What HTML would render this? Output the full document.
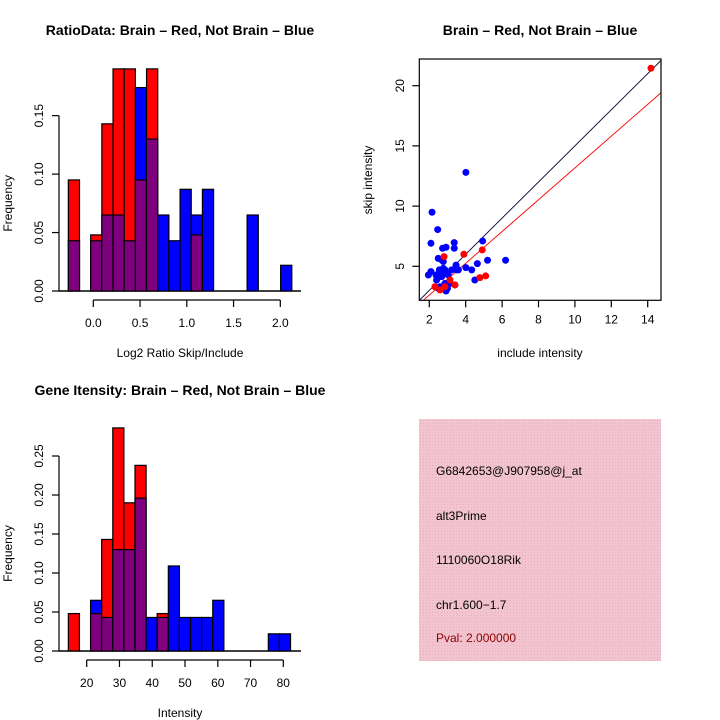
<!DOCTYPE html>
<html><head><meta charset="utf-8">
<style>
html,body{margin:0;padding:0;background:#fff;}
svg{display:block;font-family:"Liberation Sans",Arial,sans-serif;}
</style></head>
<body>
<svg id="chart" width="720" height="720" viewBox="0 0 720 720" xmlns="http://www.w3.org/2000/svg">
<rect width="720" height="720" fill="#fff"/>
<g id="p1"></g>
<g id="p2"></g>
<g id="p3"></g>
<g id="p4">
  <defs>
    <pattern id="hatch" width="3" height="3" patternUnits="userSpaceOnUse">
      <rect width="3" height="3" fill="#f2c4cf"/>
      <rect width="1" height="1" fill="#e8b0be"/>
    </pattern>
  </defs>
  <rect x="419" y="419" width="242" height="242" fill="url(#hatch)"/>
  <text x="436" y="475" font-size="12" fill="#000">G6842653@J907958@j_at</text>
  <text x="436" y="520" font-size="12" fill="#000">alt3Prime</text>
  <text x="436" y="564" font-size="12" fill="#000">1110060O18Rik</text>
  <text x="436" y="609" font-size="12" fill="#000">chr1.600−1.7</text>
  <text x="436" y="642" font-size="12" fill="#8b0000">Pval: 2.000000</text>
</g>
</svg>
<script>
// ---- Panel 1 data: log2 ratio histogram ----
const ratioBinStart = -0.267;
const ratioBinWidth = 0.1195;
const ratioRed  = [0.095,0,0.048,0.143,0.19,0.19,0.095,0.19,0,0,0,0.048,0,0,0,0,0,0,0,0];
const ratioBlue = [0.043,0,0.043,0.065,0.065,0.043,0.174,0.13,0.065,0.043,0.087,0.065,0.087,0,0,0,0.065,0,0,0.022];
const ratioXTicks = [0.0,0.5,1.0,1.5,2.0];
const ratioXTickLabels = ["0.0","0.5","1.0","1.5","2.0"];
const ratioYTicks = [0,0.05,0.10,0.15];
const ratioYTickLabels = ["0.00","0.05","0.10","0.15"];

// ---- Panel 2 data: scatter ----
const blueX = [2.15,2.46,2.09,4.01,2.73,2.92,3.37,3.37,4.93,6.19,5.2,4.64,4.33,4.01,3.47,4.5,2.92,1.95,2.09,2.49,2.68,2.77,2.55,2.77,2.4,2.59,2.86,3.14,3.04,3.23,3.5,2.37,2.95,2.68,3.41,3.0,2.49,3.6,2.86,2.59];
const blueY = [9.49,8.05,6.91,12.8,6.5,6.58,6.97,6.5,7.1,5.5,5.5,5.22,4.7,4.89,5.1,3.86,2.95,4.28,4.56,5.66,5.53,5.4,4.7,4.83,3.86,3.3,3.58,3.58,4.28,4.7,4.7,4.28,4.42,4.14,3.45,3.17,3.17,4.7,4.7,4.42];
const redX = [14.18,3.9,4.91,2.81,4.78,5.1,3.41,2.59,2.31,2.86,3.14];
const redY = [21.45,6.0,6.36,5.8,4.06,4.2,3.45,3.03,3.3,3.3,3.86];
const lineSlopes = [1.5,1.32];
const lineIntercepts = [0,-0.03];
const scatterXTicks = [2,4,6,8,10,12,14];
const scatterYTicks = [5,10,15,20];

// ---- Panel 3 data: intensity histogram ----
const intBinStart = 14.4;
const intBinWidth = 3.39;
const intRed  = [0.048,0,0.048,0.143,0.286,0.19,0.238,0,0.048,0,0,0,0,0,0,0,0,0,0,0];
const intBlue = [0,0,0.065,0.043,0.13,0.13,0.196,0.043,0.043,0.109,0.043,0.043,0.043,0.065,0,0,0,0,0.022,0.022];
const intXTicks = [20,30,40,50,60,70,80];
const intYTicks = [0,0.05,0.10,0.15,0.20,0.25];
const intYTickLabels = ["0.00","0.05","0.10","0.15","0.20","0.25"];

const NS = "http://www.w3.org/2000/svg";
function mk(parent, tag, attrs, text){
  const e = document.createElementNS(NS, tag);
  for (const k in attrs) e.setAttribute(k, attrs[k]);
  if (text !== undefined) e.textContent = text;
  parent.appendChild(e);
  return e;
}

function histogram(g, cfg){
  const {binStart,binWidth,red,blue,xScale,yScale,baseY,xTicks,xLabels,yTicks,yLabels,title,titleY,xTitle,xAxisY,xTitleY} = cfg;
  const n = red.length;
  // baseline
  const bl = mk(g,'line',{x1:59,x2:301,y1:baseY,y2:baseY,stroke:'#000','stroke-width':1.5});
  
  
  for (let i=0;i<n;i++){
    const r = red[i], b = blue[i];
    const x0 = xScale(binStart+i*binWidth), x1 = xScale(binStart+(i+1)*binWidth);
    const hi = Math.max(r,b), lo = Math.min(r,b);
    if (hi>0){
      const rc = mk(g,'rect',{x:x0,y:yScale(hi),width:x1-x0,height:baseY-yScale(hi),fill:(r>=b?'#ff0000':'#0000ff'),stroke:'#000','stroke-width':1.2});
      
      
    }
    if (lo>0){
      const pc = mk(g,'rect',{x:x0,y:yScale(lo),width:x1-x0,height:baseY-yScale(lo),fill:'#7f007f',stroke:'#000','stroke-width':1.2});
      
      
    }
  }
  // y axis
  const ya = mk(g,'line',{x1:59,x2:59,y1:yScale(yTicks[0]),y2:yScale(yTicks[yTicks.length-1]),stroke:'#000','stroke-width':1.2});
  
  
  yTicks.forEach((t,i)=>{
    const y = yScale(t);
    mk(g,'line',{x1:52,x2:59,y1:y,y2:y,stroke:'#000','stroke-width':1.2});
    const tl = mk(g,'text',{x:0,y:0,'font-size':12,'text-anchor':'middle',transform:`translate(43,${y}) rotate(-90)`},yLabels[i]);
    
    
  });
  // x axis
  const xa = mk(g,'line',{x1:xScale(xTicks[0]),x2:xScale(xTicks[xTicks.length-1]),y1:xAxisY,y2:xAxisY,stroke:'#000','stroke-width':1.2});
  
  
  xTicks.forEach((t,i)=>{
    const x = xScale(t);
    mk(g,'line',{x1:x,x2:x,y1:xAxisY,y2:xAxisY+7,stroke:'#000','stroke-width':1.2});
    const tl = mk(g,'text',{x:x,y:xAxisY+27,'font-size':12,'text-anchor':'middle'},xLabels[i]);
    
    
  });
  const tt = mk(g,'text',{x:180,y:titleY,'font-size':14,'font-weight':'bold','text-anchor':'middle'},title);
  
  
  const xt = mk(g,'text',{x:180,y:xTitleY,'font-size':12,'text-anchor':'middle'},xTitle);
  
  
  const yt = mk(g,'text',{x:0,y:0,'font-size':12,'text-anchor':'middle',transform:`translate(12,${(baseY+yScale(yTicks[yTicks.length-1]))/2}) rotate(-90)`},'Frequency');
  
  
}

// Panel 1
histogram(document.getElementById('p1'),{
  binStart:ratioBinStart,binWidth:ratioBinWidth,red:ratioRed,blue:ratioBlue,
  xScale:v=>93.3+v*93.5, yScale:v=>291-v*1169, baseY:291,
  xTicks:ratioXTicks,xLabels:ratioXTickLabels,yTicks:ratioYTicks,yLabels:ratioYTickLabels,
  title:'RatioData: Brain – Red, Not Brain – Blue',titleY:35,
  xTitle:'Log2 Ratio Skip/Include',xAxisY:300,xTitleY:357
});

// Panel 3
histogram(document.getElementById('p3'),{
  binStart:intBinStart,binWidth:intBinWidth,red:intRed,blue:intBlue,
  xScale:v=>86.7+(v-20)*3.277, yScale:v=>651-v*780, baseY:651,
  xTicks:intXTicks,xLabels:intXTicks.map(String),yTicks:intYTicks,yLabels:intYTickLabels,
  title:'Gene Itensity: Brain – Red, Not Brain – Blue',titleY:395,
  xTitle:'Intensity',xAxisY:660,xTitleY:717
});

// Panel 2
(function(){
  const g = document.getElementById('p2');
  const sx = v=>429.3+(v-2)*18.2;
  const sy = v=>266.3-(v-5)*12.04;
  const L=419.3,R=661,T=59,B=300.3;
  const cp = mk(g,'clipPath',{id:'sclip'});
  mk(cp,'rect',{x:L,y:T,width:R-L,height:B-T});
  const xmin = (L-429.3)/18.2+2, xmax=(R-429.3)/18.2+2;
  const colors=['#000030','#ff0000'];
  lineSlopes.forEach((s,i)=>{
    const ln = mk(g,'line',{x1:sx(xmin),y1:sy(lineIntercepts[i]+s*xmin),x2:sx(xmax),y2:sy(lineIntercepts[i]+s*xmax),stroke:colors[i],'stroke-width':0.9,'clip-path':'url(#sclip)'});
    
    
  });
  blueX.forEach((x,i)=>{
    const c = mk(g,'circle',{cx:sx(x),cy:sy(blueY[i]),r:3.5,fill:'#0000ff'});
    
    
  });
  redX.forEach((x,i)=>{
    const c = mk(g,'circle',{cx:sx(x),cy:sy(redY[i]),r:3.5,fill:'#ff0000'});
    
    
  });
  const box = mk(g,'rect',{x:L,y:T,width:R-L,height:B-T,fill:'none',stroke:'#000','stroke-width':1.2});
  
  
  scatterXTicks.forEach(t=>{
    const x=sx(t);
    mk(g,'line',{x1:x,x2:x,y1:B,y2:B+7,stroke:'#000','stroke-width':1.2});
    const tl = mk(g,'text',{x:x,y:B+23,'font-size':12,'text-anchor':'middle'},String(t));
    
    
  });
  scatterYTicks.forEach(t=>{
    const y=sy(t);
    mk(g,'line',{x1:L-7,x2:L,y1:y,y2:y,stroke:'#000','stroke-width':1.2});
    const tl = mk(g,'text',{x:0,y:0,'font-size':12,'text-anchor':'middle',transform:`translate(404,${y}) rotate(-90)`},String(t));
    
    
  });
  const tt = mk(g,'text',{x:540,y:35,'font-size':14,'font-weight':'bold','text-anchor':'middle'},'Brain – Red, Not Brain – Blue');
  
  
  const xt = mk(g,'text',{x:540,y:357,'font-size':12,'text-anchor':'middle'},'include intensity');
  
  
  const yt = mk(g,'text',{x:0,y:0,'font-size':12,'text-anchor':'middle',transform:'translate(372,180) rotate(-90)'},'skip intensity');
  
  
})();
</script>
</body></html>
